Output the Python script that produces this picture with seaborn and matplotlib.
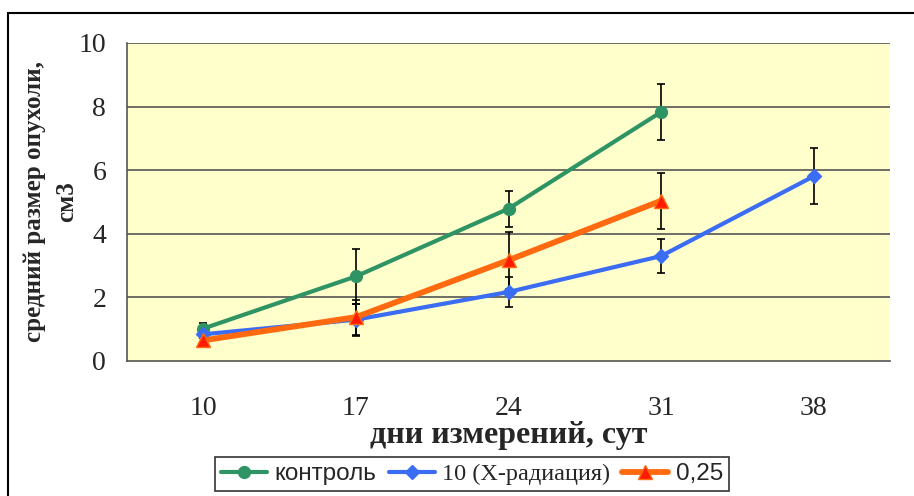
import numpy as np
import pandas as pd
import matplotlib
matplotlib.use('Agg')
import matplotlib.pyplot as plt
import seaborn as sns
from matplotlib.lines import Line2D

# данные
days = ['10', '17', '24', '31', '38']
control = [1.02, 2.66, 4.79, 7.83, np.nan]
control_err = [0.17, 0.86, 0.57, 0.87, np.nan]
xray = [0.84, 1.30, 2.17, 3.30, 5.81]
xray_err = [0.10, 0.50, 0.47, 0.53, 0.88]
dose = [0.65, 1.38, 3.17, 5.04, np.nan]
dose_err = [0.08, 0.55, 0.90, 0.88, np.nan]
labels = ['контроль', '10 (X-радиация)', '0,25']

sns.set_theme(style='white')
plt.rcParams['font.family'] = ['Liberation Serif', 'DejaVu Serif']

fig = plt.figure(figsize=(9.14, 4.96), dpi=100)
ax = fig.add_axes([127 / 914, 1 - 361 / 496, (890 - 127) / 914, (361 - 43) / 496])
ax.set_facecolor('#FFFFCC')

pos = np.arange(len(days))
df = pd.DataFrame({'pos': np.tile(pos, 3),
                   'val': control + xray + dose,
                   'err': control_err + xray_err + dose_err,
                   'series': np.repeat(labels, len(days))}).dropna()

styles = {
    'контроль': dict(color='#2E9463', marker='o', mfc='#2E9463', mec='#2E9463', ms=8.5, lw=3),
    '10 (X-радиация)': dict(color='#3A6CF4', marker='D', mfc='#3A6CF4', mec='#3A6CF4', ms=7.5, lw=3),
    '0,25': dict(color='#FF6A10', marker='^', mfc='#FF1A00', mec='#FF6A10', ms=10, lw=4.2),
}

# сетка
for y in [2, 4, 6, 8, 10]:
    ax.axhline(y, color='#555555', lw=1.2, zorder=1)

for name in labels:
    d = df[df['series'] == name]
    ax.errorbar(d['pos'], d['val'], yerr=d['err'], fmt='none', ecolor='black',
                elinewidth=1.2, capsize=3, capthick=1.2, zorder=2)
for name in labels:
    d = df[df['series'] == name]
    st = styles[name]
    sns.lineplot(data=d, x='pos', y='val', ax=ax, color=st['color'], lw=st['lw'],
                 marker=st['marker'], markerfacecolor=st['mfc'], markeredgecolor=st['mec'],
                 markersize=st['ms'], markeredgewidth=1, zorder=3, legend=False)

ax.set_xlim(-0.5, 4.5)
ax.set_ylim(0, 10)
ax.set_yticks([0, 2, 4, 6, 8, 10])
ax.set_xticks(pos)
ax.set_xticklabels(days)
ax.set_xticks(np.arange(-0.5, 5, 1), minor=True)
ax.tick_params(axis='x', which='major', length=0, pad=25, labelsize=20)
ax.tick_params(axis='x', which='minor', length=7, width=1, color='#333333', direction='out')
ax.tick_params(axis='y', length=6, width=1, color='#333333', direction='out', labelsize=20, pad=9)
for s in ['top', 'right']:
    ax.spines[s].set_visible(False)
for s in ['left', 'bottom']:
    ax.spines[s].set_color('#555555')
    ax.spines[s].set_linewidth(1.2)

ax.set_xlabel('дни измерений, сут', fontsize=23, fontweight='bold', labelpad=0)
ax.set_ylabel('средний размер опухоли,\nсм3', fontsize=18, fontweight='bold', labelpad=0,
              linespacing=1.55)

handles = [Line2D([], [], color=styles[n]['color'], lw=styles[n]['lw'], marker=styles[n]['marker'],
                  markerfacecolor=styles[n]['mfc'], markeredgecolor=styles[n]['mec'],
                  markersize=styles[n]['ms']) for n in labels]
leg = fig.legend(handles, labels, loc='center', bbox_to_anchor=(472 / 914, 1 - 474 / 496),
                 ncol=3, frameon=True, fontsize=17.5, handlelength=1.9, columnspacing=0.5,
                 handletextpad=0.3, borderpad=0.25, fancybox=False, borderaxespad=0)
leg.get_frame().set_edgecolor('black')
leg.get_frame().set_linewidth(1.2)
fams = [['Liberation Sans'], ['Liberation Serif'], ['Liberation Sans']]
for t, f in zip(leg.get_texts(), fams):
    t.set_fontfamily(f)

# внешняя рамка
fig.add_artist(Line2D([8 / 914, 1], [1 - 13 / 496] * 2, color='black', lw=1.5,
                      transform=fig.transFigure))
fig.add_artist(Line2D([8 / 914] * 2, [0, 1 - 13 / 496], color='black', lw=1.5,
                      transform=fig.transFigure))

fig.savefig('out.png', dpi=100)
